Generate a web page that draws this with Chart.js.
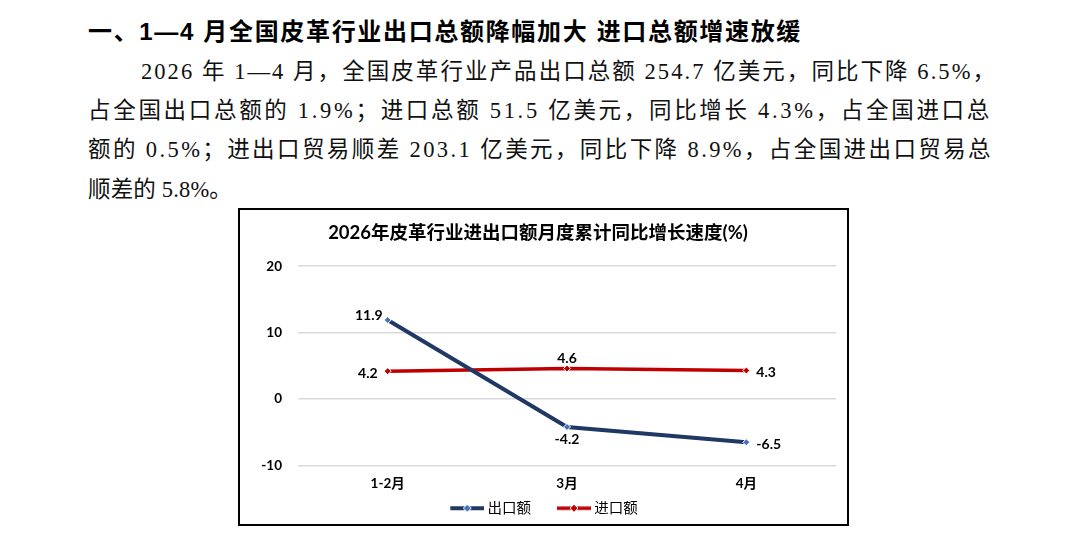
<!DOCTYPE html>
<html>
<head>
<meta charset="utf-8">
<script src="https://cdn.jsdelivr.net/npm/chart.js@4.4.1/dist/chart.umd.min.js"></script>
<style>
  html, body { margin: 0; padding: 0; background: #fff; }
  body { width: 1082px; height: 533px; position: relative; overflow: hidden; }
  .ln { position: absolute; white-space: nowrap; color: #000; }
  .hd { font-family: "Liberation Sans", "Noto Sans CJK SC", sans-serif; font-weight: 700; font-size: 24px; line-height: 30px; }
  .bd { font-family: "Liberation Serif", "Noto Sans CJK SC", serif; font-size: 22.5px; line-height: 30px; color: #111; }
  #box { position: absolute; left: 238px; top: 208px; width: 611px; height: 318px; box-sizing: border-box; border: 2px solid #000; background: #fff; }
  #box canvas { display: block; }
</style>
</head>
<body>
<div class="ln hd fit" data-w="714" style="left:88px; top:17px;">一、1—4 月全国皮革行业出口总额降幅加大 进口总额增速放缓</div>
<div class="ln bd fit" data-w="856" style="left:141px; top:57px;">2026 年 1—4 月，全国皮革行业产品出口总额 254.7 亿美元，同比下降 6.5%，</div>
<div class="ln bd fit" data-w="904" style="left:88px; top:96px;">占全国出口总额的 1.9%；进口总额 51.5 亿美元，同比增长 4.3%，占全国进口总</div>
<div class="ln bd fit" data-w="905" style="left:88px; top:135px;">额的 0.5%；进出口贸易顺差 203.1 亿美元，同比下降 8.9%，占全国进出口贸易总</div>
<div class="ln bd fit" data-w="144" style="left:88px; top:175px;">顺差的 5.8%。</div>

<div id="box"><canvas id="c" width="607" height="314"></canvas></div>

<script>
// ---- data ----
const categories = ['1-2月', '3月', '4月'];
const seriesNames = ['出口额', '进口额'];
const exportValues = [11.9, -4.2, -6.5];
const importValues = [4.2, 4.6, 4.3];
const yTickValues = [-10, 0, 10, 20];
const chartTitle = '2026年皮革行业进出口额月度累计同比增长速度(%)';

// fit text lines to their measured widths with uniform letter spacing
document.querySelectorAll('.fit').forEach(el => {
  const target = +el.dataset.w;
  const n = Array.from(el.textContent).length;
  const natural = el.getBoundingClientRect().width;
  el.style.letterSpacing = ((target - natural) / n) + 'px';
});

// ---- styles ----
const navy = '#203864';
const navyMarker = '#4472C4';
const red = '#C00000';
const sansFont = '"Lato", "Noto Sans CJK SC", sans-serif';

function legendImage(color, marker, lw) {
  const c = document.createElement('canvas');
  c.width = 64; c.height = 10;
  const g = c.getContext('2d');
  g.strokeStyle = color; g.lineWidth = lw; g.lineCap = 'butt';
  g.beginPath(); g.moveTo(30, 5); g.lineTo(64, 5); g.stroke();
  g.fillStyle = marker;
  g.strokeStyle = '#fff'; g.lineWidth = 1;
  g.beginPath(); g.moveTo(47, 1); g.lineTo(51, 5); g.lineTo(47, 9); g.lineTo(43, 5); g.closePath();
  g.fill(); g.stroke();
  return c;
}
const legendImgs = [legendImage(navy, navyMarker, 4), legendImage(red, red, 3.5)];

const labelPlugin = {
  id: 'valueLabels',
  afterLayout(chart, args, opts) {
    // nudge the legend to match the reference placement
    const lg = chart.legend;
    if (lg) { lg.left += opts.legendShift; lg.right += opts.legendShift; }
  },
  afterDatasetsDraw(chart, args, opts) {
    const ctx = chart.ctx;
    ctx.save();
    ctx.font = 'bold 14px ' + sansFont;
    ctx.fillStyle = '#000';
    chart.data.datasets.forEach((ds, di) => {
      const meta = chart.getDatasetMeta(di);
      const pos = opts.positions[di];
      meta.data.forEach((pt, i) => {
        const txt = String(ds.data[i]);
        let x = pt.x, y = pt.y;
        const p = pos[i];
        ctx.textBaseline = 'middle';
        if (p === 'left') { ctx.textAlign = 'right'; x -= 10; y += 2; }
        else if (p === 'upleft') { ctx.textAlign = 'right'; x -= 5; y -= 5; }
        else if (p === 'right') { ctx.textAlign = 'left'; x += 10; y += 2; }
        else if (p === 'above') { ctx.textAlign = 'center'; y -= 10; }
        else { ctx.textAlign = 'center'; y += 13; }
        ctx.fillText(txt, x, y);
      });
    });
    ctx.restore();
  }
};

new Chart(document.getElementById('c'), {
  type: 'line',
  data: {
    labels: categories,
    datasets: [
      { label: seriesNames[0], data: exportValues, borderColor: navy, backgroundColor: navyMarker,
        borderWidth: 4, pointStyle: 'rectRot', pointRadius: 3.5, pointBackgroundColor: navyMarker,
        pointBorderColor: '#fff', pointBorderWidth: 1, tension: 0 },
      { label: seriesNames[1], data: importValues, borderColor: red, backgroundColor: red,
        borderWidth: 3.5, pointStyle: 'rectRot', pointRadius: 3.5, pointBackgroundColor: red,
        pointBorderColor: '#fff', pointBorderWidth: 1, tension: 0 }
    ]
  },
  options: {
    responsive: false,
    animation: false,
    devicePixelRatio: 1,
    layout: { padding: { left: 0, right: 11, top: 0, bottom: -1.5 } },
    plugins: {
      title: { display: true, text: chartTitle, color: '#000',
        font: { family: sansFont, size: 18.5, weight: 'bold' }, padding: { top: 12, bottom: 22 } },
      legend: { position: 'bottom',
        labels: { usePointStyle: true, pointStyleWidth: 56, padding: 0, color: '#000',
          font: { family: sansFont, size: 14.5 },
          generateLabels(chart) {
            return chart.data.datasets.map((ds, i) => ({
              text: ds.label, pointStyle: legendImgs[i], fillStyle: ds.borderColor,
              strokeStyle: ds.borderColor, lineWidth: 0, hidden: false, datasetIndex: i, fontColor: '#000'
            }));
          } } },
      tooltip: { enabled: false },
      valueLabels: { positions: [['upleft', 'below', 'right'], ['left', 'above', 'right']], legendShift: -7 }
    },
    scales: {
      x: { offset: true, grid: { display: false, drawTicks: false }, border: { display: false },
        ticks: { color: '#000', padding: 11, font: { family: sansFont, size: 13.5, weight: 'bold', lineHeight: 1 } } },
      y: { min: -10, max: 20, afterFit(s) { s.width = 58; },
        afterBuildTicks(s) { s.ticks = yTickValues.map(v => ({ value: v })); },
        grid: { color: '#d9d9d9', lineWidth: 1.5, drawTicks: false }, border: { display: false },
        ticks: { color: '#000', padding: 16, font: { family: sansFont, size: 13.5, weight: 'bold' } } }
    }
  },
  plugins: [labelPlugin]
});
</script>
</body>
</html>
